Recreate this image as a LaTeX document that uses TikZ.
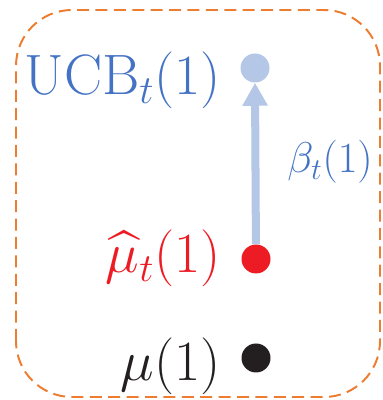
\documentclass[tikz,border=0pt]{standalone}
\usepackage{fix-cm}
\usepackage{amsmath}
\usepackage{amssymb}
\usepackage{tikz}
\usetikzlibrary{arrows.meta, positioning, calc}

\definecolor{ucbblue}{HTML}{4472C4}
\definecolor{lightblue}{HTML}{B4C7E7}
\definecolor{estred}{HTML}{ED1C24}
\definecolor{truedark}{HTML}{231F20}
\definecolor{boxorange}{HTML}{ED7D31}

\begin{document}
\begin{tikzpicture}[
  dot/.style={circle, fill, inner sep=0pt, minimum size=0.725cm},
  lbl/.style={inner sep=0pt, anchor=base east, font=\fontsize{40.5}{48}\selectfont},
  arrow/.style={-{Triangle[width=0.6cm, length=0.575cm]}, line width=5.7pt, lightblue}
]
  \useasboundingbox (0,0) rectangle (9.55,10);

  % frame around the arm
  \draw[boxorange, line width=1.4pt, dash pattern=on 0.3cm off 0.16cm, rounded corners=1.4cm]
    (0.4,0.075) rectangle (9.5,9.75);

  \node[dot, lightblue] (ucb) at (6.375,8.3) {};
  \node[dot, estred]    (est) at (6.4,3.525) {};
  \node[dot, truedark]  (mu)  at (6.4,1.05) {};

  \node[lbl, ucbblue]  (ucblbl) at ($(ucb)+(-0.85,-0.675)$) {$\mathrm{UCB}_t(1)$};
  \node[lbl, estred]   (estlbl) at ($(est)+(-0.875,-0.35)$) {$\widehat{\mu}_t(1)$};
  \node[lbl, truedark] (mulbl)  at ($(mu)+(-0.875,-0.575)$) {$\mu(1)$};

  \draw[arrow] (est) -- (ucb.south);

  % width of the confidence interval
  \node[inner sep=0pt, anchor=base east, ucbblue, font=\fontsize{30.6}{36}\selectfont]
    (beta) at (9.325,5.675) {$\beta_t(1)$};
\end{tikzpicture}
\end{document}
